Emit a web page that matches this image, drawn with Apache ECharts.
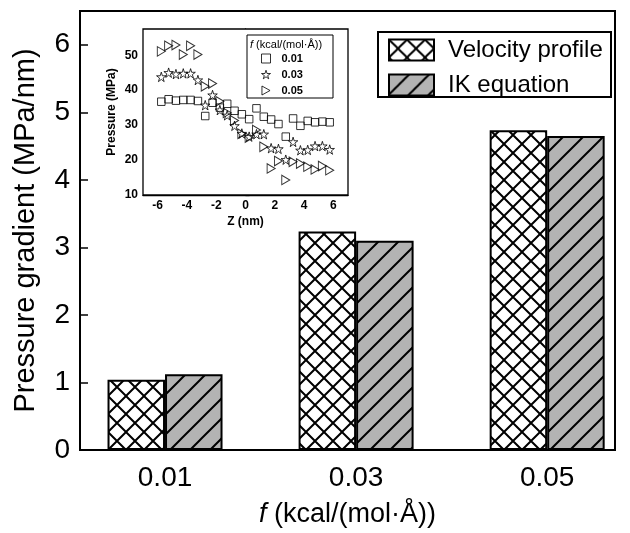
<!DOCTYPE html>
<html><head><meta charset="utf-8">
<script src="https://cdn.jsdelivr.net/npm/echarts@6/dist/echarts.min.js"></script>
<style>html,body{margin:0;padding:0;background:#fff}#c{width:630px;height:533px}</style>
</head><body><div id="c"></div>
<script>
// ---- data ----
const categories = [0.01, 0.03, 0.05];
const categoryLabels = ['0.01', '0.03', '0.05'];
const velocityProfile = [1.04, 3.235, 4.735];
const ikEquation = [1.12, 3.10, 4.65];
const mainYTicks = [0, 1, 2, 3, 4, 5, 6];

const zPositions = [-5.75, -5.25, -4.75, -4.25, -3.75, -3.25, -2.75, -2.25, -1.75, -1.25, -0.75, -0.25,
                    0.25, 0.75, 1.25, 1.75, 2.25, 2.75, 3.25, 3.75, 4.25, 4.75, 5.25, 5.75];
const pressure001 = [36.7, 37.4, 37.0, 37.2, 37.2, 36.9, 32.6, 36.4, 35.0, 36.1, 34.1, 33.1,
                     31.7, 34.8, 32.4, 31.6, 30.3, 26.7, 31.9, 29.8, 31.2, 30.8, 31.0, 30.8];
const pressure003 = [43.8, 45.0, 44.6, 44.8, 44.8, 42.9, 35.7, 38.6, 34.3, 32.8, 29.8, 27.6,
                     26.7, 27.4, 27.4, 23.4, 23.2, 20.1, 25.2, 22.8, 22.9, 24.0, 24.0, 23.0];
const pressure005 = [51.1, 52.7, 52.9, 50.2, 52.7, 50.2, 41.1, 41.9, 36.8, 33.5, 31.3, 27.5,
                     26.4, 28.6, 23.8, 17.6, 19.7, 14.3, 19.5, 19.0, 18.1, 17.3, 18.3, 17.1];
const insetXTicks = [-6, -4, -2, 0, 2, 4, 6];
const insetYTicks = [10, 20, 30, 40, 50];
const insetLegendLabels = ['0.01', '0.03', '0.05'];

// ---- patterns ----
function crossHatch() {
  const s = 18, c = document.createElement('canvas');
  c.width = s; c.height = s;
  const g = c.getContext('2d');
  g.fillStyle = '#fff'; g.fillRect(0, 0, s, s);
  g.strokeStyle = '#000'; g.lineWidth = 2;
  g.beginPath();
  g.moveTo(-2, -2); g.lineTo(s + 2, s + 2);
  g.moveTo(-2, s + 2); g.lineTo(s + 2, -2);
  g.stroke();
  return c;
}
function slantHatch() {
  const s = 20, c = document.createElement('canvas');
  c.width = s; c.height = s;
  const g = c.getContext('2d');
  g.fillStyle = '#b3b3b3'; g.fillRect(0, 0, s, s);
  g.strokeStyle = '#000'; g.lineWidth = 2;
  g.beginPath();
  g.moveTo(-2, s + 2); g.lineTo(s + 2, -2);
  g.moveTo(-2, 2); g.lineTo(2, -2);
  g.moveTo(s - 2, s + 2); g.lineTo(s + 2, s - 2);
  g.stroke();
  return c;
}
const starPath = 'path://M50,0 L61,35 L98,35 L68,57 L79,91 L50,70 L21,91 L32,57 L2,35 L39,35 Z';
const rightTriPath = 'path://M0,0 L90,50 L0,100 Z';
const FONT = 'Liberation Sans, Arial, sans-serif';

const chart = echarts.init(document.getElementById('c'), null, {renderer: 'canvas'});
const hollow = {color: 'rgba(255,255,255,0)', borderColor: '#000', borderWidth: 1};

chart.setOption({
  animation: false,
  backgroundColor: '#fff',
  grid: [
    {left: 80, top: 11, right: 15, bottom: 80, show: true, borderColor: '#000', borderWidth: 2, containLabel: false},
    {left: 143, top: 29, width: 205, height: 166, show: true, borderColor: '#000', borderWidth: 1.3, backgroundColor: '#fff', z: 5}
  ],
  xAxis: [
    {
      type: 'value', gridIndex: 0, min: 0.0011, max: 0.0571,
      axisLine: {show: true, lineStyle: {color: '#000', width: 2}},
      axisTick: {show: false},
      splitLine: {show: false},
      axisLabel: {customValues: categories, margin: 14, color: '#000', fontFamily: FONT, fontSize: 28,
        formatter: v => categoryLabels[categories.indexOf(+v.toFixed(2))] || ''},
      name: '{i|f} (kcal/(mol·Å))', nameLocation: 'middle', nameGap: 51,
      nameTextStyle: {color: '#000', fontFamily: FONT, fontSize: 27,
        rich: {i: {fontStyle: 'italic', fontFamily: FONT, fontSize: 27, color: '#000'}}}
    },
    {
      type: 'value', gridIndex: 1, min: -7, max: 7,
      axisLine: {show: true, lineStyle: {color: '#000', width: 1.3}},
      axisTick: {show: true, inside: true, length: 4, customValues: insetXTicks, lineStyle: {color: '#000', width: 1.3}},
      splitLine: {show: false},
      axisLabel: {customValues: insetXTicks, margin: 5, color: '#000', fontFamily: FONT, fontSize: 12, fontWeight: 'bold'},
      name: 'Z (nm)', nameLocation: 'middle', nameGap: 21,
      nameTextStyle: {color: '#000', fontFamily: FONT, fontSize: 12, fontWeight: 'bold'}
    }
  ],
  yAxis: [
    {
      type: 'value', gridIndex: 0, min: 0, max: 6.5,
      axisLine: {show: true, lineStyle: {color: '#000', width: 2}},
      axisTick: {show: true, inside: true, length: 8, customValues: mainYTicks, lineStyle: {color: '#000', width: 1.5}},
      splitLine: {show: false},
      axisLabel: {customValues: mainYTicks, margin: 10, color: '#000', fontFamily: FONT, fontSize: 28},
      name: 'Pressure gradient (MPa/nm)', nameLocation: 'middle', nameGap: 40,
      nameTextStyle: {color: '#000', fontFamily: FONT, fontSize: 29}
    },
    {
      type: 'value', gridIndex: 1, min: 10, max: 57.5,
      axisLine: {show: true, lineStyle: {color: '#000', width: 1.3}},
      axisTick: {show: true, inside: true, length: 4, customValues: insetYTicks, lineStyle: {color: '#000', width: 1.3}},
      splitLine: {show: false},
      axisLabel: {customValues: insetYTicks, margin: 5, color: '#000', fontFamily: FONT, fontSize: 12, fontWeight: 'bold'},
      name: 'Pressure (MPa)', nameLocation: 'middle', nameGap: 25,
      nameTextStyle: {color: '#000', fontFamily: FONT, fontSize: 12, fontWeight: 'bold'}
    }
  ],
  legend: [
    {
      data: ['Velocity profile', 'IK equation'], orient: 'vertical', left: 388, top: 38, padding: 0,
      itemWidth: 45, itemHeight: 21, itemGap: 11, icon: 'rect', z: 20,
      textStyle: {color: '#000', fontFamily: FONT, fontSize: 24, padding: [0, 0, 0, 9]},
      itemStyle: {borderColor: '#000', borderWidth: 2}
    },
    {
      data: [
        {name: insetLegendLabels[0], icon: 'rect'},
        {name: insetLegendLabels[1], icon: starPath},
        {name: insetLegendLabels[2], icon: rightTriPath}
      ],
      orient: 'vertical', left: 261, top: 53, padding: 0,
      itemWidth: 9, itemHeight: 9, itemGap: 5, z: 20,
      itemStyle: {borderColor: '#000', borderWidth: 1, color: 'rgba(255,255,255,0)'},
      textStyle: {color: '#000', fontFamily: FONT, fontSize: 11, fontWeight: 'bold', padding: [0, 0, 0, 6]}
    }
  ],
  graphic: [
    {type: 'rect', z: 15, shape: {x: 378, y: 32, width: 233, height: 65}, style: {fill: '#fff', stroke: '#000', lineWidth: 2}},
    {type: 'rect', z: 15, shape: {x: 247, y: 35, width: 86, height: 63}, style: {fill: '#fff', stroke: '#000', lineWidth: 1}},
    {type: 'text', z: 21, x: 250, y: 39, style: {text: '{i|f} (kcal/(mol·Å))', fill: '#000', font: '11px ' + FONT,
      rich: {i: {fontStyle: 'italic', fontSize: 11, fontFamily: FONT, fill: '#000'}}}}
  ],
  series: [
    {
      name: 'Velocity profile', type: 'bar', xAxisIndex: 0, yAxisIndex: 0, barWidth: 57.5, barGap: '0%',
      itemStyle: {color: {image: crossHatch(), repeat: 'repeat'}, borderColor: '#000', borderWidth: 2},
      data: categories.map((c, i) => [c, velocityProfile[i]])
    },
    {
      name: 'IK equation', type: 'bar', xAxisIndex: 0, yAxisIndex: 0, barWidth: 57.5, barGap: '0%',
      itemStyle: {color: {image: slantHatch(), repeat: 'repeat'}, borderColor: '#000', borderWidth: 2},
      data: categories.map((c, i) => [c, ikEquation[i]])
    },
    {
      name: insetLegendLabels[0], type: 'scatter', xAxisIndex: 1, yAxisIndex: 1, z: 10,
      symbol: 'rect', symbolSize: 7.5, itemStyle: hollow,
      data: zPositions.map((z, i) => [z, pressure001[i]])
    },
    {
      name: insetLegendLabels[1], type: 'scatter', xAxisIndex: 1, yAxisIndex: 1, z: 10,
      symbol: starPath, symbolSize: 9.5, itemStyle: hollow,
      data: zPositions.map((z, i) => [z, pressure003[i]])
    },
    {
      name: insetLegendLabels[2], type: 'scatter', xAxisIndex: 1, yAxisIndex: 1, z: 10,
      symbol: rightTriPath, symbolSize: [8, 9.5], itemStyle: hollow,
      data: zPositions.map((z, i) => [z, pressure005[i]])
    }
  ]
});
</script></body></html>
